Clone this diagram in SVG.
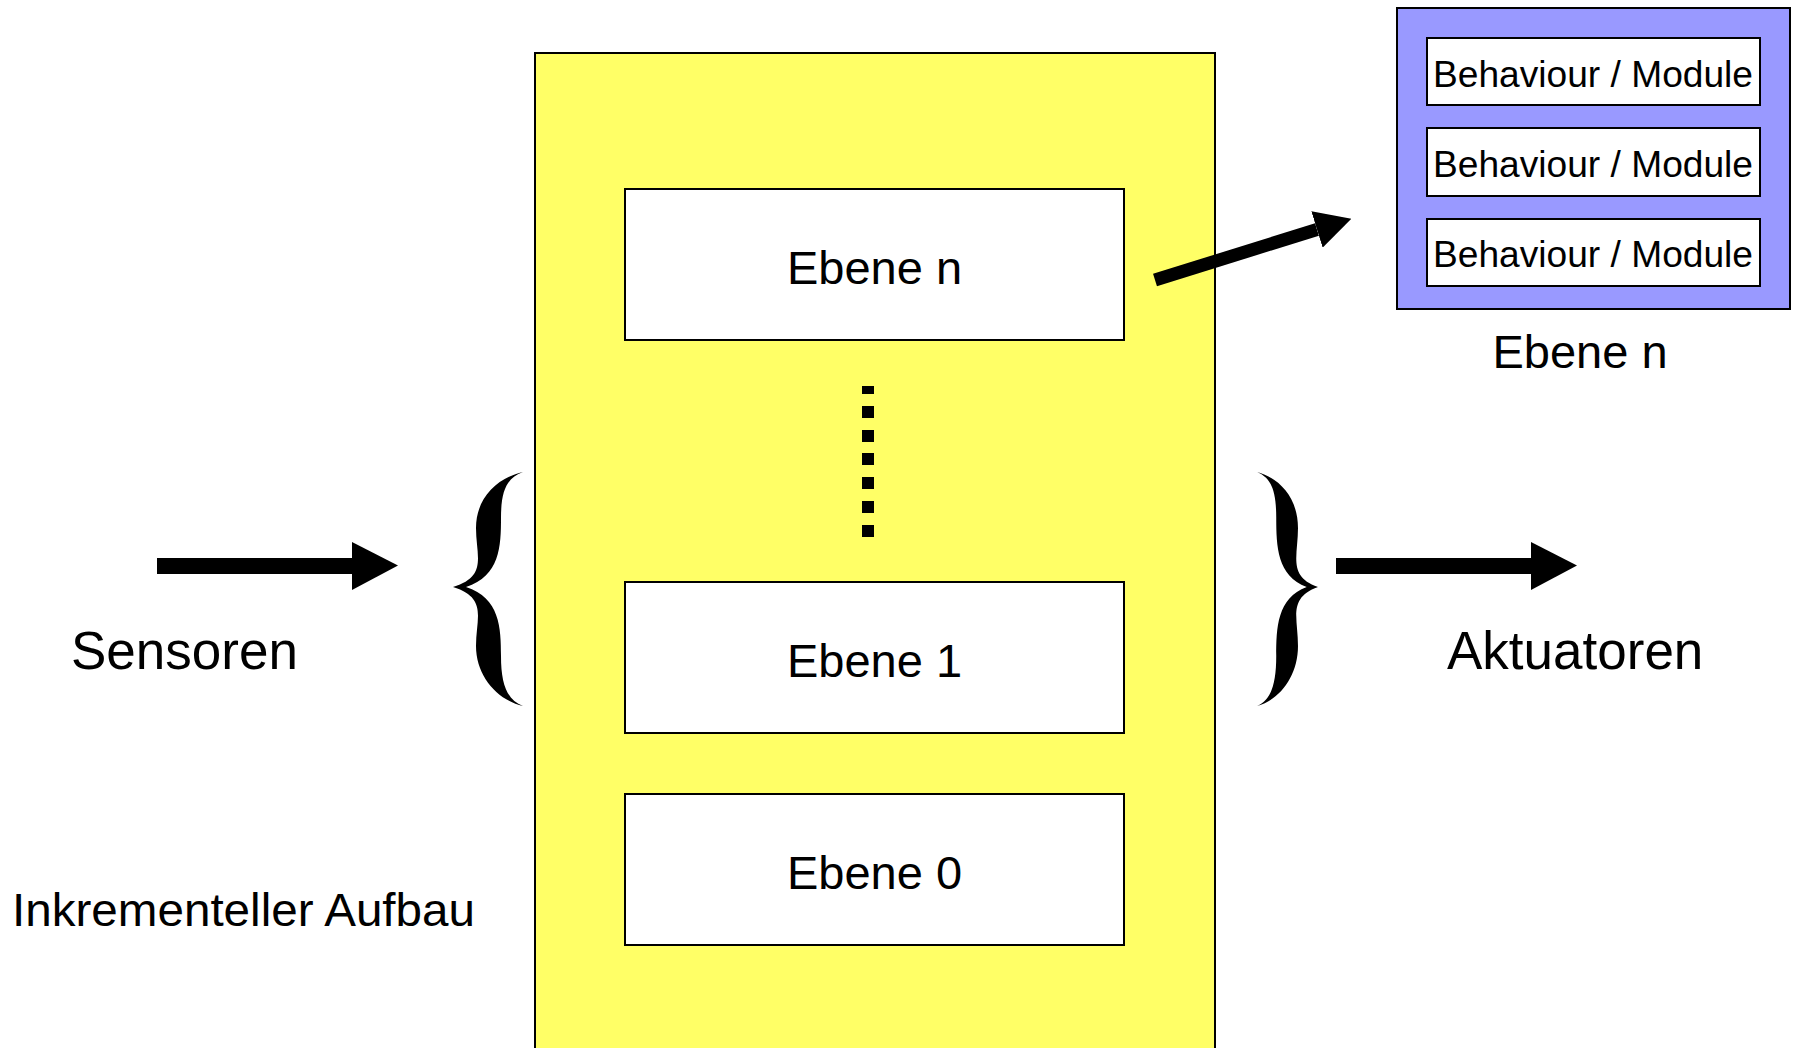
<svg xmlns="http://www.w3.org/2000/svg" width="1796" height="1048" viewBox="0 0 1796 1048">
<style>
text{font-family:"Liberation Sans",Arial,sans-serif;fill:#000}
.lbl{font-size:47px}
.big{font-size:53px}
.beh{font-size:36px}
.box{fill:#fff;stroke:#000;stroke-width:2}
.shaft{stroke:#000;fill:none}
</style>
<defs>
<marker id="headH" markerUnits="userSpaceOnUse" viewBox="0 0 46 48" markerWidth="46" markerHeight="48" refX="0" refY="24" orient="auto">
<path d="M0,0 L46,23.5 L0,48 Z" fill="#000"/>
</marker>
<marker id="headD" markerUnits="userSpaceOnUse" viewBox="0 0 36 38" markerWidth="36" markerHeight="38" refX="0" refY="19" orient="auto">
<path d="M0,0 L36,19 L0,38 Z" fill="#000"/>
</marker>
<path id="brace" d="M523,472 C497,478 476,498 476,528 C476,556 488,576 453,587 C488,598 476,618 476,646 C476,676 497,700 523,706 C507,700 501,684 501,656 C501,628 500,598 466,587 C500,576 501,546 501,518 C501,490 507,478 523,472 Z" fill="#000"/>
</defs>

<g id="stack">
<rect x="535" y="53" width="680" height="1010" fill="#FFFF66" stroke="#000" stroke-width="2"/>
</g>

<g id="ebene-n">
<rect class="box" x="625" y="189" width="499" height="151"/>
<text class="lbl" x="874.5" y="284" text-anchor="middle">Ebene n</text>
</g>

<g id="dots">
<rect x="862" y="386" width="12" height="8"/>
<rect x="862" y="406" width="12" height="12"/>
<rect x="862" y="430" width="12" height="12"/>
<rect x="862" y="453" width="12" height="12"/>
<rect x="862" y="477" width="12" height="12"/>
<rect x="862" y="501" width="12" height="12"/>
<rect x="862" y="525" width="12" height="12"/>
</g>

<g id="ebene-1">
<rect class="box" x="625" y="582" width="499" height="151"/>
<text class="lbl" x="874.5" y="677" text-anchor="middle">Ebene 1</text>
</g>

<g id="ebene-0">
<rect class="box" x="625" y="794" width="499" height="151"/>
<text class="lbl" x="874.5" y="889" text-anchor="middle">Ebene 0</text>
</g>

<g id="detail">
<rect x="1397" y="8" width="393" height="301" fill="#9999FF" stroke="#000" stroke-width="2"/>
<rect class="box" x="1427" y="38" width="333" height="67"/>
<text class="beh" x="1593" y="87" text-anchor="middle" textLength="320" lengthAdjust="spacingAndGlyphs">Behaviour / Module</text>
<rect class="box" x="1427" y="128" width="333" height="68"/>
<text class="beh" x="1593" y="177" text-anchor="middle" textLength="320" lengthAdjust="spacingAndGlyphs">Behaviour / Module</text>
<rect class="box" x="1427" y="219" width="333" height="67"/>
<text class="beh" x="1593" y="267" text-anchor="middle" textLength="320" lengthAdjust="spacingAndGlyphs">Behaviour / Module</text>
<text class="lbl" x="1580" y="368" text-anchor="middle">Ebene n</text>
</g>

<g id="braces">
<use href="#brace"/>
<use href="#brace" transform="translate(1318,0) scale(-0.87,1) translate(-453,0)"/>
</g>

<g id="labels">
<text class="big" x="71" y="669">Sensoren</text>
<text class="big" x="1447" y="669">Aktuatoren</text>
<text class="lbl" x="12" y="926" textLength="463" lengthAdjust="spacingAndGlyphs">Inkrementeller Aufbau</text>
</g>

<g id="connectors">
<line class="shaft" x1="157" y1="566" x2="352" y2="566" stroke-width="16" marker-end="url(#headH)"/>
<line class="shaft" x1="1336" y1="566" x2="1531" y2="566" stroke-width="16" marker-end="url(#headH)"/>
<line class="shaft" x1="1155" y1="280" x2="1317" y2="229.5" stroke-width="13" marker-end="url(#headD)"/>
</g>
</svg>
